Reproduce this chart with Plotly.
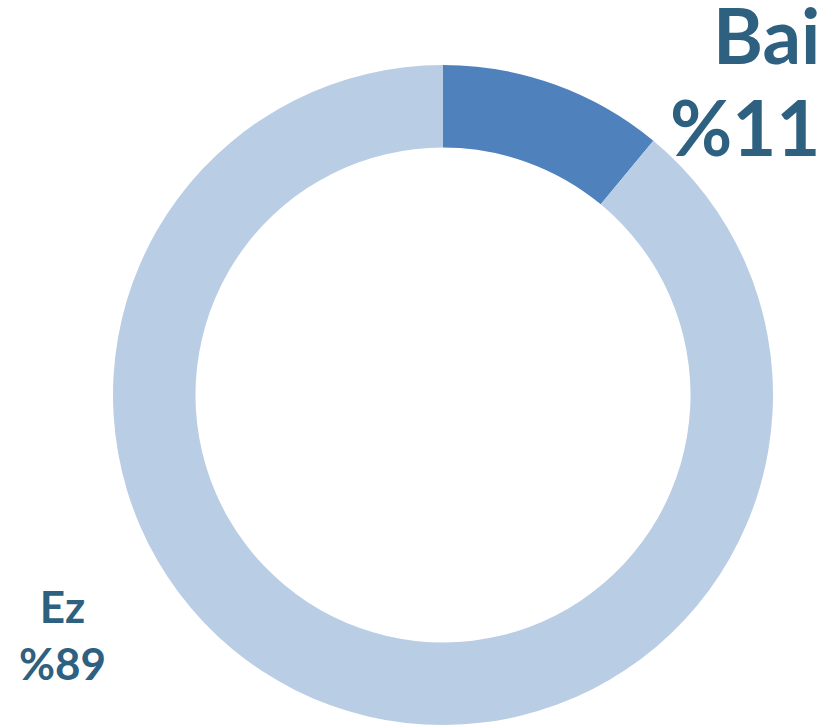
import plotly.graph_objects as go

labels = ["Bai", "Ez"]
values = [11, 89]
colors = ["#4f81bd", "#b9cde5"]

fig = go.Figure(go.Pie(
    labels=labels, values=values, hole=0.75, sort=False, direction="clockwise",
    rotation=0, marker=dict(colors=colors, line=dict(width=0)),
    textinfo="none", hoverinfo="label+percent", showlegend=False,
    domain=dict(x=[113/831, 773/831], y=[1/726, 661/726]),
))

text_color = "#2e6080"
big = dict(family="Lato", size=76, color=text_color)
fig.add_annotation(x=822/831, y=1 + 13/726, xref="paper", yref="paper", xanchor="right", yanchor="top",
                   text=f"<b>{labels[0]}</b>", showarrow=False, align="right", font=big)
fig.add_annotation(x=822/831, y=1 - 79/726, xref="paper", yref="paper", xanchor="right", yanchor="top",
                   text=f"<b>%{values[0]}</b>", showarrow=False, align="right", font=big)
fig.add_annotation(x=63/831, y=1 - 578/726, xref="paper", yref="paper", xanchor="center", yanchor="top",
                   text=f"<b>{labels[1]}<br>%{values[1]}</b>", showarrow=False, align="center",
                   font=dict(family="Lato", size=44, color=text_color))

fig.update_layout(width=831, height=726, margin=dict(l=0, r=0, t=0, b=0),
                  paper_bgcolor="white", plot_bgcolor="white")
fig.write_html("out.html", config={"displayModeBar": False},
               post_script="document.body.style.margin='0';document.body.style.overflow='hidden';")
